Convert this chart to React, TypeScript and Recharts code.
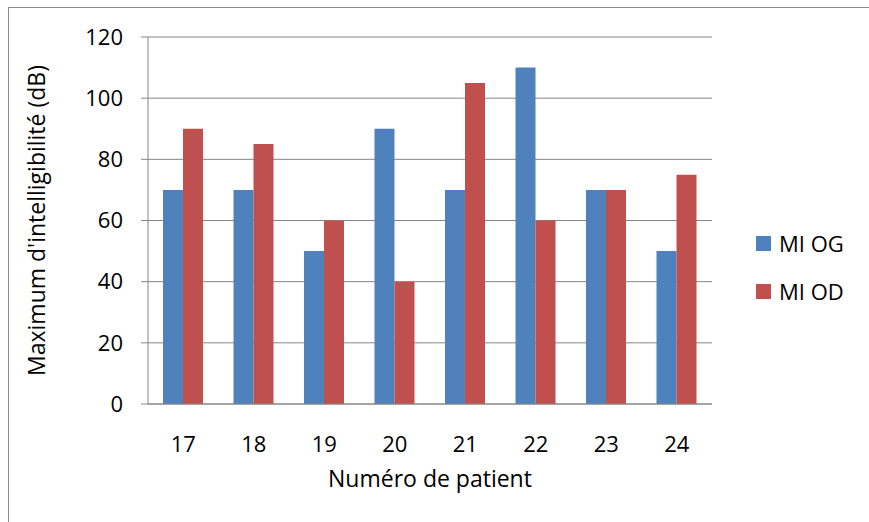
import React from "react";
import {
  BarChart, Bar, XAxis, YAxis, CartesianGrid, Label,
} from "recharts";

const patients = ["17", "18", "19", "20", "21", "22", "23", "24"];
const miOG = [70, 70, 50, 90, 70, 110, 70, 50];
const miOD = [90, 85, 60, 40, 105, 60, 70, 75];
const yTicks = [0, 20, 40, 60, 80, 100, 120];

const FONT = "'Open Sans', sans-serif";
const FS = 23;
const AXIS_GRAY = "#868686";

const chartData = patients.map((p, i) => ({
  patient: p,
  "MI OG": miOG[i],
  "MI OD": miOD[i],
}));

const legendItems = [
  { name: "MI OG", color: "#4f81bd" },
  { name: "MI OD", color: "#c0504d" },
];

function LegendBox() {
  return (
    <div style={{ position: "absolute", left: 756, top: 219, fontFamily: FONT, fontSize: 22, color: "#000" }}>
      {legendItems.map((it) => (
        <div key={it.name} style={{ display: "flex", alignItems: "center", height: 48 }}>
          <span style={{ width: 15, height: 15, background: it.color, marginRight: 8, display: "inline-block" }} />
          <span style={{ lineHeight: "48px" }}>{it.name}</span>
        </div>
      ))}
    </div>
  );
}

export default function App() {
  return (
    <div style={{ position: "absolute", left: 0, top: 0, width: 869, height: 522, background: "#fff", overflow: "hidden" }}>
      {/* outer frame: only left and top edges show */}
      <div style={{ position: "absolute", left: 8, top: 7, width: 1000, height: 700, borderLeft: "1px solid #8c8c8c", borderTop: "1px solid #8c8c8c" }} />
      <BarChart
        width={869}
        height={522}
        data={chartData}
        margin={{ top: 37, right: 157, left: 0, bottom: 0 }}
        barGap={0}
        barSize={20}
        style={{ position: "absolute", left: 0, top: 0 }}
      >
        <CartesianGrid vertical={false} stroke={AXIS_GRAY} strokeWidth={1} />
        <XAxis
          dataKey="patient"
          height={118}
          tickLine={false}
          axisLine={{ stroke: AXIS_GRAY }}
          tick={{ fill: "#000", fontSize: 22, fontFamily: FONT }}
          tickMargin={26}
        >
          <Label
            value="Numéro de patient"
            position="insideBottom"
            offset={35}
            style={{ fill: "#000", fontSize: FS, fontFamily: FONT }}
          />
        </XAxis>
        <YAxis
          width={148}
          domain={[0, 120]}
          ticks={yTicks}
          interval={0}
          tickSize={7}
          tickMargin={18}
          tickLine={{ stroke: AXIS_GRAY }}
          axisLine={{ stroke: AXIS_GRAY }}
          tick={{ fill: "#000", fontSize: 22, fontFamily: FONT }}
        >
          <Label
            value="Maximum d'intelligibilité (dB)"
            angle={-90}
            position="insideLeft"
            offset={37}
            style={{ fill: "#000", fontSize: FS, fontFamily: FONT, textAnchor: "middle" }}
          />
        </YAxis>
        <Bar dataKey="MI OG" fill="#4f81bd" isAnimationActive={false} />
        <Bar dataKey="MI OD" fill="#c0504d" isAnimationActive={false} />
      </BarChart>
      <LegendBox />
    </div>
  );
}
